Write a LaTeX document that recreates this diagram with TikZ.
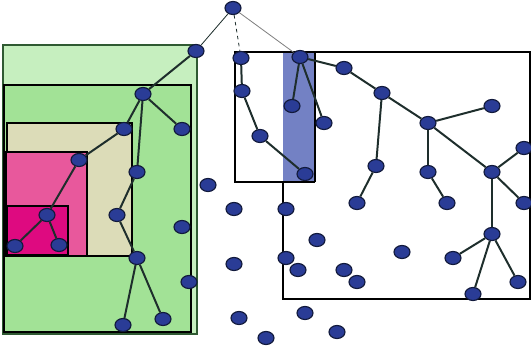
\documentclass[tikz,border=0pt]{standalone}
\usepackage{xcolor}
\usepackage{tikz}
\usetikzlibrary{shapes.geometric, positioning}
\definecolor{lightgreen}{HTML}{C6EFBF}
\definecolor{midgreen}{HTML}{A2E296}
\definecolor{rimgreen}{HTML}{2F5A32}
\definecolor{beige}{HTML}{DCDCB8}
\definecolor{rosepink}{HTML}{E8589C}
\definecolor{deepmagenta}{HTML}{DE0A80}
\definecolor{stripblue}{HTML}{7381C4}
\definecolor{vtxfill}{HTML}{2A3C96}
\definecolor{vtxline}{HTML}{121A3C}
\definecolor{edgecol}{HTML}{1E2E2C}

\begin{document}
\begin{tikzpicture}[
    x=0.03cm, y=-0.03cm,
    vtx/.style={ellipse, draw=vtxline, fill=vtxfill, line width=1pt,
                minimum width=4.8mm, minimum height=3.9mm, inner sep=0pt},
    edge/.style={draw=edgecol, line width=1.7pt},
    link/.style={draw=edgecol, line width=0.7pt},
    region/.style={fill=#1, draw=black, line width=1.4pt}
]
\useasboundingbox (0,0) rectangle (531,351);

% nested regions on the left
\draw[region=lightgreen, draw=rimgreen] (3,45) rectangle (197,334);
\draw[region=midgreen] (4,85) rectangle (191,332);
\draw[region=beige] (7,123) rectangle (132,256);
\draw[region=rosepink] (6,152) rectangle (87,256);
\draw[region=deepmagenta, line width=1.1pt] (7,206) rectangle (68,255);

% boxes on the right
\fill[stripblue] (283,52) rectangle (315,182);
\draw[line width=1.4pt] (315,182) -- (235,182) -- (235,52) -- (315,52) -- (315,182);
\draw[line width=1.4pt] (283,182) -- (283,299) -- (530,299) -- (530,52) -- (315,52);

% root
\node[vtx] (root) at (233,8) {};

% left tree
\node[vtx] (g1) at (196,51) {};
\node[vtx] (g2) at (143,94) {};
\node[vtx] (g3) at (124,129) {};
\node[vtx] (g4) at (182,129) {};
\node[vtx] (g5) at (137,172) {};
\node[vtx] (g6) at (79,160) {};
\node[vtx] (g7) at (47,215) {};
\node[vtx] (g8) at (15,246) {};
\node[vtx] (g9) at (59,245) {};
\node[vtx] (g10) at (117,215) {};
\node[vtx] (g11) at (137,258) {};
\node[vtx] (g12) at (123,325) {};
\node[vtx] (g13) at (163,319) {};
\node[vtx] (g14) at (182,227) {};
\node[vtx] (g15) at (189,282) {};

% middle tree
\node[vtx] (m1) at (241,58) {};
\node[vtx] (m2) at (242,91) {};
\node[vtx] (m3) at (260,136) {};
\node[vtx] (m4) at (305,174) {};

% right tree
\node[vtx] (b1) at (300,57) {};
\node[vtx] (b2) at (292,106) {};
\node[vtx] (b3) at (324,123) {};
\node[vtx] (b4) at (344,68) {};
\node[vtx] (b5) at (382,93) {};
\node[vtx] (b6) at (376,166) {};
\node[vtx] (b7) at (428,123) {};
\node[vtx] (b8) at (492,106) {};
\node[vtx] (b9) at (428,172) {};
\node[vtx] (b10) at (492,172) {};
\node[vtx] (b11) at (524,148) {};
\node[vtx] (b12) at (357,203) {};
\node[vtx] (b13) at (447,203) {};
\node[vtx] (b14) at (492,234) {};
\node[vtx] (b15) at (524,203) {};
\node[vtx] (b16) at (453,258) {};
\node[vtx] (b17) at (473,294) {};
\node[vtx] (b18) at (518,282) {};

% loose points
\node[vtx] (p1) at (208,185) {};
\node[vtx] (p2) at (234,209) {};
\node[vtx] (p3) at (286,209) {};
\node[vtx] (p4) at (317,240) {};
\node[vtx] (p5) at (234,264) {};
\node[vtx] (p6) at (286,258) {};
\node[vtx] (p7) at (298,270) {};
\node[vtx] (p8) at (344,270) {};
\node[vtx] (p9) at (357,282) {};
\node[vtx] (p10) at (402,252) {};
\node[vtx] (p11) at (239,318) {};
\node[vtx] (p12) at (305,313) {};
\node[vtx] (p13) at (337,332) {};
\node[vtx] (p14) at (266,338) {};

% connections
\draw[link] (root) -- (g1);
\draw[link, dashed] (root) -- (m1);
\draw[link, draw=gray] (root) -- (b1);

\draw[edge] (g1) -- (g2);
\draw[edge] (g2) -- (g3);
\draw[edge] (g2) -- (g4);
\draw[edge] (g2) -- (g5);
\draw[edge] (g3) -- (g6);
\draw[edge] (g6) -- (g7);
\draw[edge] (g7) -- (g8);
\draw[edge] (g7) -- (g9);
\draw[edge] (g5) -- (g10);
\draw[edge] (g10) -- (g11);
\draw[edge] (g11) -- (g12);
\draw[edge] (g11) -- (g13);

\draw[edge] (m1) -- (m2);
\draw[edge] (m2) -- (m3);
\draw[edge] (m3) -- (m4);

\draw[edge] (b1) -- (b2);
\draw[edge] (b1) -- (b3);
\draw[edge] (b1) -- (b4);
\draw[edge] (b4) -- (b5);
\draw[edge] (b5) -- (b6);
\draw[edge] (b5) -- (b7);
\draw[edge] (b7) -- (b8);
\draw[edge] (b7) -- (b9);
\draw[edge] (b7) -- (b10);
\draw[edge] (b10) -- (b11);
\draw[edge] (b6) -- (b12);
\draw[edge] (b9) -- (b13);
\draw[edge] (b10) -- (b14);
\draw[edge] (b10) -- (b15);
\draw[edge] (b14) -- (b16);
\draw[edge] (b14) -- (b17);
\draw[edge] (b14) -- (b18);
\end{tikzpicture}
\end{document}
